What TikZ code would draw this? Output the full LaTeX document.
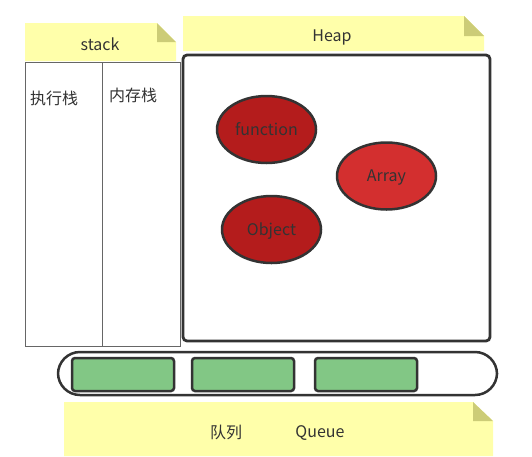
\documentclass[tikz,border=0pt]{standalone}
\usepackage{fontspec}
\setmainfont{Noto Sans CJK SC}
\usetikzlibrary{shapes.geometric}
\definecolor{notefill}{HTML}{FFFFAA}
\definecolor{notefold}{HTML}{CCCC77}
\definecolor{inkgray}{HTML}{333333}
\definecolor{deepred}{HTML}{B41C1C}
\definecolor{lightred}{HTML}{D32F2F}
\definecolor{taskgreen}{HTML}{82C785}
\tikzset{
  heapobj/.style={ellipse,draw=inkgray,line width=2.5pt,minimum width=99pt,minimum height=67pt,inner sep=0pt,text=inkgray,font=\fontsize{16}{19}\selectfont,text depth=-1.5pt},
  task/.style={draw=inkgray,line width=2.5pt,fill=taskgreen,rounded corners=3pt},
  label/.style={text=inkgray,font=\fontsize{16}{19}\selectfont,yshift=-1.5pt}
}
\begin{document}
\begin{tikzpicture}[x=1pt,y=-1pt]
\useasboundingbox[fill=white] (0,0) rectangle (532,456);
% stack note and table
\fill[notefill] (25,23)--(157,23)--(176,42)--(176,61)--(25,61)--cycle;
\fill[notefold] (157,23)--(157,42)--(176,42)--cycle;
\node[label] (stacktitle) at (100,43) {stack};
\draw[gray!80!black,line width=0.8pt] (25,62) rectangle (180,346);
\draw[gray!80!black,line width=0.8pt] (102,62)--(102,346);
\node[label] (execstack) at (54,97) {执行栈};
\node[label] (memstack) at (133,94) {内存栈};
% heap note and box
\fill[notefill] (183,16)--(464,16)--(484,36)--(484,51)--(183,51)--cycle;
\fill[notefold] (464,16)--(464,36)--(484,36)--cycle;
\node[label] (heaptitle) at (332,36) {Heap};
\draw[inkgray,line width=2.8pt,rounded corners=4pt] (183,55) rectangle (490,341);
\node[heapobj,fill=deepred] (func) at (266.5,129.5) {function};
\node[heapobj,fill=lightred] (array) at (386.5,176) {Array};
\node[heapobj,fill=deepred] (object) at (271.5,229.5) {Object};
% queue
\draw[inkgray,line width=2.5pt,rounded corners=22pt] (58,352) rectangle (497,395);
\draw[task] (72,358) rectangle (174,391);
\draw[task] (192,358) rectangle (294,391);
\draw[task] (315,358) rectangle (417,391);
\fill[notefill] (64,402)--(473,402)--(493,421)--(493,456)--(64,456)--cycle;
\fill[notefold] (473,402)--(473,421)--(493,421)--cycle;
\node[label] (queuecn) at (226,431) {队列};
\node[label] (queueen) at (320,431) {Queue};
\end{tikzpicture}
\end{document}
